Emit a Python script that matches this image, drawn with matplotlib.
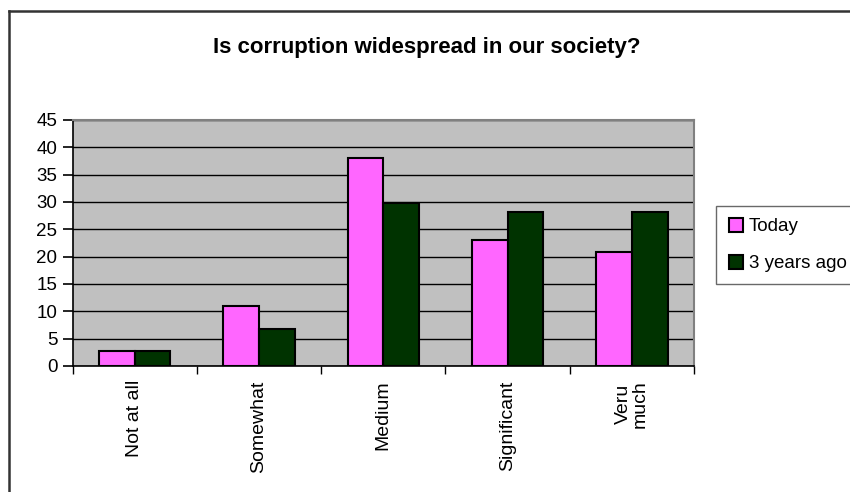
import matplotlib
matplotlib.use("Agg")
import matplotlib.pyplot as plt
import numpy as np
from matplotlib.lines import Line2D

categories = ["Not at all", "Somewhat", "Medium", "Significant", "Veru\nmuch"]
today = [2.8, 11, 38.1, 23.1, 20.9]
three_years_ago = [2.8, 6.8, 29.9, 28.2, 28.2]
series_names = ["Today", "3 years ago"]
y_ticks = [0, 5, 10, 15, 20, 25, 30, 35, 40, 45]

pink = "#FF66FF"
green = "#003300"

plt.rcParams["font.family"] = ["Liberation Sans", "DejaVu Sans"]

fig = plt.figure(figsize=(8.5, 4.92), dpi=100)
ax = fig.add_axes([72.7 / 850, 1 - 366 / 492, (694 - 72.7) / 850, (366 - 120) / 492])

x = np.arange(len(categories))
w = 0.287
ax.bar(x - w / 2, today, w, color=pink, edgecolor="black", linewidth=1.5,
       label=series_names[0], zorder=3)
ax.bar(x + w / 2, three_years_ago, w, color=green, edgecolor="black", linewidth=1.5,
       label=series_names[1], zorder=3)

ax.set_facecolor("#C0C0C0")
ax.set_xlim(-0.5, len(categories) - 0.5)
ax.set_ylim(0, 45)
ax.set_yticks(y_ticks)
ax.yaxis.grid(True, color="black", linewidth=1.0, zorder=1)
ax.set_axisbelow(True)

for s in ["top", "right"]:
    ax.spines[s].set_color("#808080")
    ax.spines[s].set_linewidth(1.5)
for s in ["left", "bottom"]:
    ax.spines[s].set_color("black")
    ax.spines[s].set_linewidth(1.2)

ax.tick_params(axis="y", direction="out", length=7, width=1.2, labelsize=13.5, pad=4)
ax.set_xticks(np.arange(len(categories) + 1) - 0.5)
ax.set_xticklabels([])
ax.tick_params(axis="x", direction="out", length=6, width=1.0)
for i, c in enumerate(categories):
    ax.text(i, -2.6, c, rotation=90, ha="center", va="top", fontsize=14,
            multialignment="center", linespacing=1.0)

fig.text(427 / 850, 1 - 47 / 492, "Is corruption widespread in our society?",
         ha="center", va="center", fontsize=16, fontweight="bold")

handles = [
    Line2D([], [], marker="s", linestyle="none", markersize=10,
           markerfacecolor=pink, markeredgecolor="black", markeredgewidth=1.5),
    Line2D([], [], marker="s", linestyle="none", markersize=10,
           markerfacecolor=green, markeredgecolor="black", markeredgewidth=1.5),
]
leg = fig.legend(handles, series_names, loc="upper left",
                 bbox_to_anchor=(716 / 850, 1 - 206 / 492),
                 fontsize=13.5, frameon=True, fancybox=False, edgecolor="#444444",
                 handlelength=0.8, handletextpad=0.3, borderpad=0.65,
                 labelspacing=1.05, borderaxespad=0)
leg.get_frame().set_linewidth(1.0)

# outer chart frame, running off the right and bottom edges
fig.add_artist(Line2D([9 / 850, 9 / 850], [0, 1 - 11 / 492], color="#333333", linewidth=1.8))
fig.add_artist(Line2D([9 / 850, 1], [1 - 11 / 492, 1 - 11 / 492], color="#333333", linewidth=1.8))

fig.savefig("out.png", dpi=100)
